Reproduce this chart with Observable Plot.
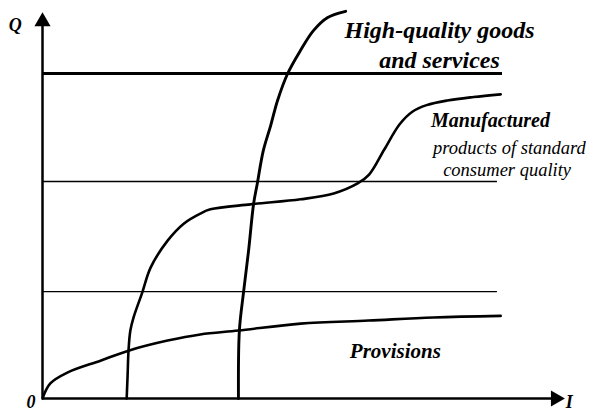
<!DOCTYPE html>
<html>
<head>
<meta charset="utf-8">
<script src="https://cdn.jsdelivr.net/npm/d3@7"></script>
<script src="https://cdn.jsdelivr.net/npm/@observablehq/plot@0.6"></script>
<style>
  html, body { margin: 0; padding: 0; background: #fff; }
  #chart svg { display: block; overflow: visible; }
</style>
</head>
<body>
<div id="chart"></div>
<script>
// Provisions curve (income I vs consumption Q)
const provisionsI = [0, 1.7, 5.4, 12.6, 18.7, 27.2, 34.3, 42.6, 56.1, 70.9, 85.0, 99.6];
const provisionsQ = [0, 3.9, 6.7, 9.8, 12.4, 15.0, 16.6, 17.6, 19.4, 20.2, 21.0, 21.4];

// Manufactured products of standard consumer quality
const manufacturedI = [18.3, 18.5, 18.7, 19.1, 19.8, 21.7, 23.5, 27.2, 30.7, 34.3, 36.5, 45.2, 56.1, 63.3, 68.5, 71.0, 74.3, 77.6, 80.4, 83.5, 88.0, 93.7, 99.6];
const manufacturedQ = [0, 6.0, 12.4, 17.6, 21.0, 27.5, 33.9, 40.9, 45.3, 47.9, 49.0, 50.3, 51.6, 53.1, 55.7, 58.0, 64.5, 71.0, 74.3, 76.0, 77.2, 78.1, 78.8];

// High-quality goods and services
const highI = [42.6, 42.8, 43.7, 44.8, 45.9, 46.7, 48.0, 49.6, 51.1, 53.3, 56.1, 58.9, 62.0, 65.9];
const highQ = [0, 17.6, 27.5, 38.3, 50.5, 55.7, 64.2, 70.7, 77.2, 84.2, 90.2, 95.3, 98.7, 100.3];

// Saturation levels
const levelQ = [84.2, 56.2, 27.7];
const levelEnd = [100, 98.9, 98.9];
const levelWidth = [3, 1.4, 1.4];

// Axis extents
const axisTopQ = 100;
const axisEndI = 113.5;

// Labels
const labelText = ["High-quality goods", "and services", "Manufactured", "products of standard", "consumer quality", "Provisions"];
const labelI = [86.3, 86.3, 97.4, 101.5, 101.0, 76.7];
const labelQ = [95.3, 87.7, 72.1, 65.0, 59.1, 12.2];
const labelBold = [true, true, true, false, false, true];
const labelSize = [24, 24, 20, 18.5, 18.5, 21];

const axisLabelText = ["Q", "0", "I"];
const axisLabelI = [-5.9, -2.5, 114.5];
const axisLabelQ = [96.6, -0.9, -0.9];

const toPts = (xs, ys) => xs.map((x, i) => ({I: x, Q: ys[i]}));
const provisions = toPts(provisionsI, provisionsQ);
const manufactured = toPts(manufacturedI, manufacturedQ);
const high = toPts(highI, highQ);
const levels = levelQ.map((q, i) => ({Q: q, end: levelEnd[i], w: levelWidth[i]}));
const labels = labelText.map((t, i) => ({t, I: labelI[i], Q: labelQ[i], bold: labelBold[i], size: labelSize[i]}));
const axisLabels = axisLabelText.map((t, i) => ({t, I: axisLabelI[i], Q: axisLabelQ[i]}));

const font = "'Liberation Serif', 'DejaVu Serif', serif";

const marks = [
  // saturation levels
  ...levels.map(l => Plot.ruleY([l], {y: "Q", x1: 0, x2: "end", stroke: "black", strokeWidth: l.w})),
  // axes
  Plot.ruleX([0], {y1: 0, y2: axisTopQ - 3, stroke: "black", strokeWidth: 2.5}),
  Plot.ruleY([0], {x1: 0, x2: axisEndI - 2, stroke: "black", strokeWidth: 2.5}),
  Plot.dot([{I: 0, Q: axisTopQ}], {x: "I", y: "Q", symbol: "triangle", r: 6, fill: "black", stroke: "none", dy: 9}),
  Plot.dot([{I: axisEndI, Q: 0}], {x: "I", y: "Q", symbol: "triangle", r: 6, fill: "black", stroke: "none", rotate: 90, dx: -9}),
  // curves
  Plot.line(provisions, {x: "I", y: "Q", curve: "catmull-rom", stroke: "black", strokeWidth: 2.6}),
  Plot.line(manufactured, {x: "I", y: "Q", curve: "catmull-rom", stroke: "black", strokeWidth: 2.6}),
  Plot.line(high, {x: "I", y: "Q", curve: "catmull-rom", stroke: "black", strokeWidth: 2.9}),
  // labels
  ...labels.map(l => Plot.text([l], {
    x: "I", y: "Q", text: "t", fill: "black",
    fontFamily: font, fontStyle: "italic", fontWeight: l.bold ? "bold" : "normal",
    fontSize: l.size, textAnchor: "middle"
  })),
  Plot.text(axisLabels, {x: "I", y: "Q", text: "t", fill: "black", fontFamily: font,
    fontStyle: "italic", fontWeight: "bold", fontSize: 18, textAnchor: "middle"})
];

const chart = Plot.plot({
  width: 592,
  height: 412,
  marginLeft: 42,
  marginRight: 90,
  marginTop: 12,
  marginBottom: 14,
  x: {domain: [0, 100], axis: null},
  y: {domain: [0, 100], axis: null},
  style: {background: "white", overflow: "visible"},
  marks
});
document.getElementById("chart").appendChild(chart);
</script>
</body>
</html>
